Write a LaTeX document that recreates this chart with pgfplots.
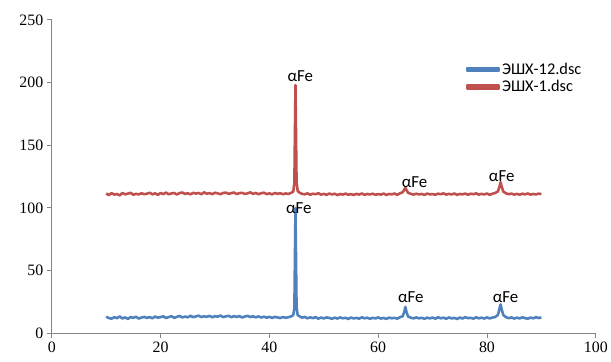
\documentclass[border=0pt]{standalone}
\usepackage{pgfplots}
\pgfplotsset{compat=1.18}
\usepackage{pgfplotstable}
\usepackage{fontspec}
\setmainfont{Liberation Serif}
\newfontfamily\calibri{Carlito}
\definecolor{xblue}{HTML}{4F81BD}
\definecolor{xred}{HTML}{C0504D}
\definecolor{axgray}{HTML}{868686}
\pgfplotstableread{
x b r
10.0 13.2 111.5
10.5 12.1 110.2
11.0 11.6 111.8
11.5 12.8 110.6
12.0 12.0 111.1
12.5 13.4 110.0
13.0 11.8 111.9
13.5 12.6 110.8
14.0 11.4 111.4
14.5 12.9 112.0
15.0 12.3 110.5
15.5 13.1 111.2
16.0 11.7 110.7
16.5 12.5 111.7
17.0 13.0 110.9
17.5 12.2 111.3
18.0 12.9 112.1
18.5 11.9 110.8
19.0 13.3 111.6
19.5 12.4 110.4
20.0 12.8 111.9
20.5 13.5 111.0
21.0 12.1 112.2
21.5 12.9 110.9
22.0 13.6 111.5
22.5 12.3 111.9
23.0 13.0 110.7
23.5 13.8 111.8
24.0 12.6 112.3
24.5 13.3 111.1
25.0 12.7 111.7
25.5 13.9 110.8
26.0 12.8 112.0
26.5 13.4 111.4
27.0 14.0 111.9
27.5 12.9 110.9
28.0 13.5 112.4
28.5 13.1 111.3
29.0 13.8 111.8
29.5 12.7 111.0
30.0 13.6 112.1
30.5 13.2 111.6
31.0 14.1 110.9
31.5 12.9 111.9
32.0 13.4 112.2
32.5 13.9 111.2
33.0 12.8 111.7
33.5 13.6 112.3
34.0 13.0 111.0
34.5 13.7 111.8
35.0 12.6 112.0
35.5 13.3 111.1
36.0 13.9 111.6
36.5 12.9 112.4
37.0 13.5 111.2
37.5 12.7 111.9
38.0 13.4 110.9
38.5 12.5 111.7
39.0 13.2 112.1
39.5 12.4 111.0
40.0 13.1 111.6
40.5 12.2 110.8
41.0 13.0 111.9
41.5 12.6 111.2
42.0 12.1 111.7
42.5 12.9 110.9
43.0 12.3 111.5
43.5 12.8 111.1
44.0 13.4 112.0
44.4 14.5 113.0
44.6 20.0 120.0
44.8 100.0 198.0
45.0 21.0 121.0
45.2 14.5 113.5
45.5 13.6 112.3
46.0 12.4 111.2
46.5 13.0 110.8
47.0 11.9 111.6
47.5 12.7 110.5
48.0 12.0 111.3
48.5 12.9 110.9
49.0 11.6 111.7
49.5 12.5 110.6
50.0 11.8 111.2
50.5 12.6 110.4
51.0 12.2 111.5
51.5 11.5 110.7
52.0 12.4 111.3
52.5 11.7 110.2
53.0 12.6 111.1
53.5 11.9 110.6
54.0 12.3 111.4
54.5 11.4 110.5
55.0 12.5 111.0
55.5 11.8 110.3
56.0 12.2 111.2
56.5 11.6 110.6
57.0 12.7 111.5
57.5 11.9 110.4
58.0 12.4 111.1
58.5 11.5 110.7
59.0 12.3 111.3
59.5 11.8 110.5
60.0 12.6 111.0
60.5 11.7 110.6
61.0 12.2 111.4
61.5 11.4 110.3
62.0 12.5 111.1
62.5 11.9 110.8
63.0 12.3 111.5
63.5 11.6 110.4
64.0 12.8 111.6
64.5 13.5 112.5
64.8 17.0 114.5
65.0 21.0 116.0
65.2 17.0 114.2
65.5 13.3 112.0
66.0 12.4 111.2
66.5 11.8 110.6
67.0 12.6 111.3
67.5 11.9 110.7
68.0 12.3 111.1
68.5 11.5 110.4
69.0 12.4 111.4
69.5 11.8 110.8
70.0 12.5 111.0
70.5 11.6 110.5
71.0 12.7 111.3
71.5 11.9 110.9
72.0 12.4 111.6
72.5 11.5 110.6
73.0 12.6 111.2
73.5 11.8 110.7
74.0 12.2 111.5
74.5 11.4 110.4
75.0 12.5 111.1
75.5 11.7 110.8
76.0 12.8 111.4
76.5 12.0 110.5
77.0 12.3 111.3
77.5 11.6 110.9
78.0 12.7 111.6
78.5 11.9 110.6
79.0 12.4 111.2
79.5 11.7 110.7
80.0 12.6 111.5
80.5 11.8 110.4
81.0 12.5 111.3
81.5 12.9 111.9
82.0 14.5 113.0
82.3 19.5 117.0
82.5 23.0 120.5
82.7 19.0 117.0
83.0 14.5 113.0
83.5 12.8 111.6
84.0 12.0 110.9
84.5 12.6 111.4
85.0 11.7 110.6
85.5 12.4 111.2
86.0 11.8 110.5
86.5 12.7 111.3
87.0 12.0 110.8
87.5 11.6 111.5
88.0 12.5 110.6
88.5 11.9 111.1
89.0 12.8 110.7
89.5 12.1 111.4
90.0 12.6 110.9
}\datatable
\begin{document}
\begin{tikzpicture}
\begin{axis}[
  scale only axis,
  width=547bp, height=315bp,
  xmin=0, xmax=100, ymin=0, ymax=250,
  xtick={0,20,...,100}, ytick={0,50,...,250},
  axis lines=left,
  axis line style={-, draw=axgray, line width=0.8bp},
  tick style={draw=axgray, line width=0.8bp},
  tick align=outside,
  major tick length=5bp,
  tick label style={font=\fontsize{16}{19}\selectfont},
  /pgf/number format/assume math mode=true,
  legend style={at={(0.755,0.875)}, anchor=north west, draw=none, fill=none,
    font=\calibri\fontsize{16.5}{19}\selectfont, row sep=0.5bp,
    /tikz/every even column/.append style={column sep=0pt}},
  legend cell align=left,
  legend image code/.code={\fill[#1] (0bp,-1.5bp) rectangle (32bp,1.5bp);},
  every axis plot/.append style={line width=2.6bp, line join=round},
  clip=false,
]
\addplot[xblue, no markers] table[x=x, y=b] {\datatable};
\addlegendentry{ЭШХ-12.dsc}
\addplot[xred, no markers] table[x=x, y=r] {\datatable};
\addlegendentry{ЭШХ-1.dsc}
\begin{scope}[every node/.style={font=\calibri\fontsize{17}{20}\selectfont, inner sep=0pt}]
\node at (axis cs:45.7,205) {αFe};
\node at (axis cs:66.7,120.5) {αFe};
\node at (axis cs:82.7,125) {αFe};
\node at (axis cs:45.4,99.5) {αFe};
\node at (axis cs:66.0,28.5) {αFe};
\node at (axis cs:83.4,28.5) {αFe};
\end{scope}
\end{axis}
\path (current axis.south west) ++(-52bp,-28bp) coordinate (bl);
\path (current axis.north east) ++(12bp,20bp) coordinate (tr);
\useasboundingbox (bl) rectangle (tr);
\end{tikzpicture}
\end{document}
